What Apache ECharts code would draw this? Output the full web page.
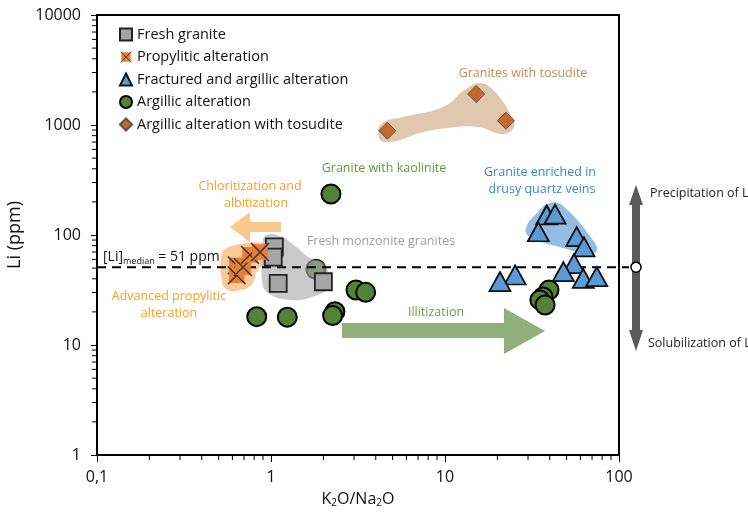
<!DOCTYPE html>
<html>
<head>
<meta charset="utf-8">
<script src="https://cdn.jsdelivr.net/npm/echarts@6/dist/echarts.min.js"></script>
<style>
  html, body { margin: 0; padding: 0; background: #fff; }
  #chart { width: 748px; height: 512px; }
</style>
</head>
<body>
<div id="chart"></div>
<script>
// Li content against K2O/Na2O ratio for each alteration facies (log-log)
const freshGranite = [[1.045, 78], [1.03, 63], [1.10, 36.4], [2.0, 37.6]];
const propylitic = [[0.635, 53], [0.635, 43], [0.69, 51], [0.757, 66], [0.865, 70]];
const fracturedArgillic = [
  [38.4, 152], [42.9, 155], [34.4, 107], [57.1, 96.5], [62.9, 78], [55.1, 55],
  [47.9, 46.4], [62.3, 40.4], [74.5, 41.8], [25.3, 43.3], [20.7, 37.6]
];
const argillic = [
  [2.21, 236], [1.81, 48.8], [0.828, 18.1], [1.24, 17.9], [2.33, 20.1], [2.26, 18.5],
  [3.08, 31.6], [3.5, 30.1], [39.6, 31.6], [36.6, 27.3], [35.1, 25.7], [37.6, 23.1]
];
const tosudite = [[15.1, 1914], [22.4, 1094], [4.66, 888]];
const liMedian = 51;

// outlines of the shaded sample groups (data units)
const hullFresh = [[0.924, 97.9], [1.126, 97.9], [1.374, 79.4], [1.675, 61.8], [1.964, 56.8], [2.126, 46.1],
  [2.183, 34.4], [1.72, 27.3], [1.286, 25.7], [0.961, 29.7], [0.888, 39.0], [0.90, 73.0]];
const hullPropylitic = [[0.537, 73.1], [0.664, 82.8], [0.888, 84.6], [1.013, 76.2], [0.987, 60.5], [0.842, 48.1],
  [0.778, 35.9], [0.664, 31.6], [0.551, 32.3], [0.516, 43.3], [0.516, 61.8]];
const hullDrusy = [[40.1, 195], [47.0, 187], [72.8, 84.6], [73.8, 70.0], [63.8, 67.2], [52.3, 73.1],
  [30.8, 95.9], [29.2, 115.8], [34.2, 161.9]];
const hullTosudite = [[4.18, 762], [4.29, 1021], [5.74, 1182], [9.74, 1457], [13.2, 2125], [15.9, 2409],
  [18.9, 2081], [23.6, 1285], [24.9, 959], [21.3, 828], [15.5, 959], [10.3, 939], [7.18, 846], [5.51, 731], [4.52, 700]];

const xDecades = [0.1, 1, 10];
const yDecades = [1, 10, 100, 1000];

const FONT = 'Open Sans';

const crossSvg = '<svg xmlns="http://www.w3.org/2000/svg" width="54" height="54" viewBox="0 0 18 18">' +
  '<rect x="2" y="2" width="14" height="14" fill="#ed7d31"/>' +
  '<path d="M1 1L17 17M17 1L1 17" stroke="#3a3a3a" stroke-width="1.4"/></svg>';
const crossSymbol = 'image://data:image/svg+xml;charset=utf-8,' + encodeURIComponent(crossSvg);

function hullSeries(points, fill, z) {
  return {
    type: 'custom', silent: true, z: z, clip: false,
    data: points, encode: { x: 0, y: 1 },
    renderItem: function (params, api) {
      if (params.dataIndex !== 0) return null;
      return {
        type: 'polygon',
        shape: { points: points.map(function (p) { return api.coord(p); }), smooth: 0.45 },
        style: { fill: fill }
      };
    }
  };
}

const chart = echarts.init(document.getElementById('chart'), null, { renderer: 'canvas' });

const option = {
  animation: false,
  backgroundColor: '#fff',
  grid: {
    left: 97, right: 129, top: 15, bottom: 57, containLabel: false, outerBoundsMode: 'none',
    show: true, borderColor: '#000', borderWidth: 2, backgroundColor: 'transparent'
  },
  legend: {
    orient: 'vertical', left: 114, top: 22, itemGap: 7.5, itemWidth: 12, itemHeight: 12,
    textStyle: { fontFamily: FONT, fontSize: 14.5, color: '#111' },
    data: [
      { name: 'Fresh granite', icon: 'rect' },
      { name: 'Propylitic alteration', icon: crossSymbol },
      { name: 'Fractured and argillic alteration', icon: 'triangle' },
      { name: 'Argillic alteration', icon: 'circle' },
      { name: 'Argillic alteration with tosudite', icon: 'diamond' }
    ]
  },
  xAxis: {
    type: 'log', logBase: 10, min: 0.1, max: 100,
    name: 'K{s|2}O/Na{s|2}O', nameLocation: 'middle', nameGap: 35,
    nameTextStyle: {
      fontFamily: FONT, fontSize: 16, color: '#111',
      rich: { s: { fontFamily: FONT, fontSize: 10, color: '#111', padding: [8, 0, 0, 0] } }
    },
    axisLine: { show: true, lineStyle: { color: '#000', width: 2 } },
    axisTick: { show: true, inside: false, length: 7, lineStyle: { color: '#000', width: 1 } },
    axisLabel: {
      fontFamily: FONT, fontSize: 16, color: '#111', margin: 14,
      formatter: function (v) { return String(+(+v).toPrecision(6)).replace('.', ','); }
    },
    splitLine: { show: false }
  },
  yAxis: {
    type: 'log', logBase: 10, min: 1, max: 10000,
    name: 'Li (ppm)', nameLocation: 'middle', nameGap: 70, nameRotate: 90,
    nameTextStyle: { fontFamily: FONT, fontSize: 18, color: '#111' },
    axisLine: { show: true, lineStyle: { color: '#000', width: 2 } },
    axisTick: { show: true, inside: false, length: 6, lineStyle: { color: '#000', width: 1 } },
    axisLabel: {
      fontFamily: FONT, fontSize: 16, color: '#111', margin: 16,
      formatter: function (v) { return String(Math.round(+v)); }
    },
    splitLine: { show: false }
  },
  series: [
    hullSeries(hullTosudite, '#dfc8ae', 1),
    hullSeries(hullDrusy, 'rgba(91,155,213,0.66)', 1),
    hullSeries(hullPropylitic, 'rgba(248,158,70,0.55)', 1),
    {
      name: 'Argillic alteration', type: 'scatter', data: argillic, z: 2,
      symbol: 'circle', symbolSize: 19,
      itemStyle: { color: '#538135', borderColor: '#000', borderWidth: 2, opacity: 1 }
    },
    hullSeries(hullFresh, 'rgba(170,170,170,0.63)', 3),
    // median Li reference line, carried a little past the frame
    {
      type: 'custom', silent: true, z: 4, clip: false,
      data: [[0.1, liMedian]], encode: { x: 0, y: 1 },
      renderItem: function (params, api) {
        const a = api.coord([0.1, liMedian]);
        const b = api.coord([100, liMedian]);
        return {
          type: 'line',
          shape: { x1: a[0], y1: a[1], x2: b[0] + 10, y2: b[1] },
          style: { stroke: '#000', lineWidth: 2, lineDash: [9, 6] }
        };
      }
    },
    {
      name: 'Fresh granite', type: 'scatter', data: freshGranite, z: 5,
      symbol: 'rect', symbolSize: 17,
      itemStyle: { color: '#a5a5a5', borderColor: '#222', borderWidth: 1.8, opacity: 1 }
    },
    {
      name: 'Propylitic alteration', type: 'scatter', data: propylitic, z: 5,
      symbol: crossSymbol, symbolSize: 20,
      itemStyle: { color: '#ed7d31', opacity: 1 }
    },
    {
      name: 'Fractured and argillic alteration', type: 'scatter', data: fracturedArgillic, z: 5,
      symbol: 'triangle', symbolSize: [21, 19],
      itemStyle: { color: '#5b9bd5', borderColor: '#111', borderWidth: 1.8, opacity: 1 }
    },
    {
      name: 'Argillic alteration with tosudite', type: 'scatter', data: tosudite, z: 5,
      symbol: 'diamond', symbolSize: 17,
      itemStyle: { color: '#c5692a', borderColor: '#555', borderWidth: 1, opacity: 1 }
    },
    // minor ticks at 2..9 within each decade
    {
      type: 'custom', silent: true, z: 6, clip: false,
      data: [[1, 1]], encode: { x: 0, y: 1 },
      renderItem: function (params, api) {
        const children = [];
        xDecades.forEach(function (d) {
          for (let k = 2; k <= 9; k++) {
            const p = api.coord([d * k, 1]);
            children.push({ type: 'line', shape: { x1: p[0], y1: p[1], x2: p[0], y2: p[1] + 5 }, style: { stroke: '#000', lineWidth: 1 } });
          }
        });
        yDecades.forEach(function (d) {
          for (let k = 2; k <= 9; k++) {
            const p = api.coord([0.1, d * k]);
            children.push({ type: 'line', shape: { x1: p[0] - 5, y1: p[1], x2: p[0], y2: p[1] }, style: { stroke: '#000', lineWidth: 1 } });
          }
        });
        return { type: 'group', children: children };
      }
    }
  ]
};

chart.setOption(option);

// annotations: process arrows and group labels
const yMed = chart.convertToPixel({ gridIndex: 0 }, [100, liMedian])[1];
const ax = 636;

function label(text, x, y, color, align) {
  return {
    type: 'text', z: 20, x: x, y: y,
    style: { text: text, fill: color, font: '12.5px "' + FONT + '"', align: align || 'center', verticalAlign: 'middle' }
  };
}

chart.setOption({
  graphic: [
    // left-pointing chloritization arrow
    { type: 'polygon', z: 1, shape: { points: [[230, 227], [250, 212], [250, 222], [281, 222], [281, 232], [250, 232], [250, 242]] }, style: { fill: '#f9c98c' } },
    // right-pointing illitization arrow
    { type: 'polygon', z: 1, shape: { points: [[342, 323], [504, 323], [504, 308], [545, 331], [504, 354], [504, 338], [342, 338]] }, style: { fill: '#8fb07a' } },
    // vertical double arrow beside the frame
    { type: 'polygon', z: 10, shape: { points: [[ax, 185], [ax + 7, 205], [ax + 4, 205], [ax + 4, 330], [ax + 7, 330], [ax, 351], [ax - 7, 330], [ax - 4, 330], [ax - 4, 205], [ax - 7, 205]] }, style: { fill: '#5a5a5a' } },
    { type: 'circle', z: 11, shape: { cx: ax, cy: yMed, r: 5 }, style: { fill: '#fff', stroke: '#000', lineWidth: 1.5 } },
    label('Precipitation of Li', 650, 193, '#222', 'left'),
    label('Solubilization of Li', 648, 343, '#222', 'left'),
    label('Granites with tosudite', 523, 73, '#c08a5c'),
    label('Granite with kaolinite', 384, 168, '#5e9a3c'),
    label('Granite enriched in', 540, 172, '#3d86c8'),
    label('drusy quartz veins', 542, 189, '#3d86c8'),
    label('Chloritization and', 250, 186, '#f5a124'),
    label('albitization', 256, 203, '#f5a124'),
    label('Fresh monzonite granites', 381, 241, '#9e9e9e'),
    label('Advanced propylitic', 169, 296, '#f5a124'),
    label('alteration', 169, 313, '#f5a124'),
    label('Illitization', 436, 312, '#6f9a50'),
    {
      type: 'text', z: 20, x: 103, y: 257,
      style: {
        text: '[Li]{s|median} = 51 ppm', fill: '#111', font: '14px "' + FONT + '"', verticalAlign: 'middle',
        rich: { s: { fontSize: 9, fontFamily: FONT, fill: '#111', padding: [9, 0, 0, 0] } }
      }
    }
  ]
});
</script>
</body>
</html>
